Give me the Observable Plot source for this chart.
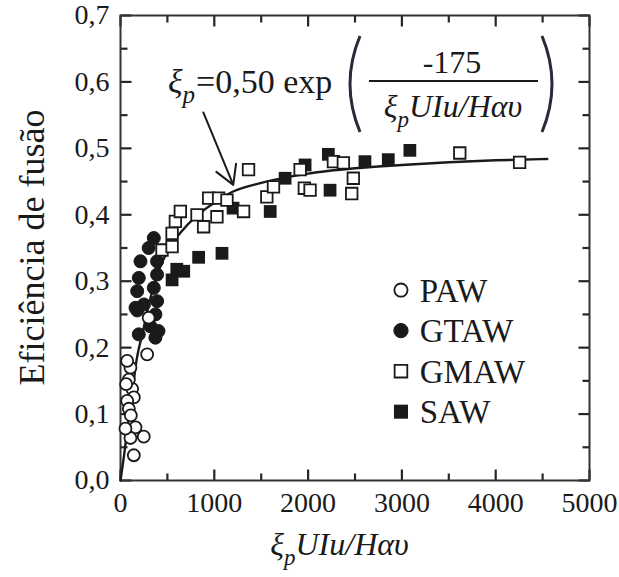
<!DOCTYPE html>
<html><head><meta charset="utf-8">
<script src="https://cdn.jsdelivr.net/npm/d3@7"></script>
<script src="https://cdn.jsdelivr.net/npm/@observablehq/plot@0.6"></script>
<style>body{margin:0;background:#fff} svg{display:block}</style>
</head><body><div id="chart"></div>
<script>
// ---- data ----
const pawX = [284, 106, 71, 124, 142, 71, 89, 160, 248, 106, 53, 142, 89, 300, 110, 60];
const pawY = [0.19, 0.17, 0.18, 0.138, 0.125, 0.12, 0.108, 0.08, 0.066, 0.064, 0.078, 0.038, 0.152, 0.245, 0.098, 0.145];
const gtawX = [355, 300, 213, 390, 195, 390, 178, 355, 390, 160, 250, 372, 320, 195, 405, 372, 178];
const gtawY = [0.365, 0.35, 0.33, 0.33, 0.305, 0.31, 0.285, 0.29, 0.27, 0.26, 0.265, 0.25, 0.232, 0.22, 0.225, 0.215, 0.256];
const gmawX = [443, 550, 550, 585, 638, 816, 886, 940, 1028, 1046, 1135, 1312, 1365, 1560, 1631, 1915, 1960, 2021, 2270, 2376, 2482, 2465, 3617, 4255];
const gmawY = [0.347, 0.352, 0.372, 0.39, 0.405, 0.40, 0.382, 0.425, 0.397, 0.425, 0.422, 0.405, 0.468, 0.427, 0.442, 0.468, 0.44, 0.437, 0.48, 0.478, 0.455, 0.432, 0.493, 0.479];
const sawX = [550, 600, 674, 833, 1082, 1200, 1596, 1755, 1968, 2216, 2234, 2606, 2855, 3085];
const sawY = [0.302, 0.318, 0.315, 0.336, 0.342, 0.41, 0.405, 0.455, 0.475, 0.491, 0.437, 0.48, 0.483, 0.497];
const curveX = [0, 40, 80, 120, 170, 240, 320, 420, 520, 650, 800, 1000, 1200, 1500, 2000, 2500, 3000, 3500, 4000, 4550];
const curveY = [0, 0.04, 0.085, 0.125, 0.18, 0.225, 0.275, 0.32, 0.35, 0.375, 0.397, 0.418, 0.435, 0.448, 0.462, 0.470, 0.475, 0.479, 0.482, 0.484];
const xMajor = [0, 1000, 2000, 3000, 4000, 5000];
const xMinor = [500, 1500, 2500, 3500, 4500];
const yMajor = [0, 0.1, 0.2, 0.3, 0.4, 0.5, 0.6, 0.7];
const yMinor = [0.05, 0.15, 0.25, 0.35, 0.45, 0.55, 0.65];
const legendLabels = ["PAW", "GTAW", "GMAW", "SAW"];
const arrowFrom = [883, 0.554];
const arrowTo = [1202, 0.445];

const W = 619, H = 577, ML = 120, MR = 30, MT = 15, MB = 97;
const FW = W - ML - MR, FH = H - MT - MB;
const X0 = 0, X1 = 5000, Y0 = 0, Y1 = 0.7;
const pts = (xs, ys) => xs.map((x, i) => ({x, y: ys[i]}));
const INK = "#1a1a1a";
const styles = [
  {symbol: "circle", fill: "white", stroke: INK, strokeWidth: 1.8, r: 6},
  {symbol: "circle", fill: INK, stroke: INK, strokeWidth: 1, r: 6.5},
  {symbol: "square", fill: "white", stroke: INK, strokeWidth: 1.8, r: 6.5},
  {symbol: "square", fill: INK, stroke: "none", r: 7.2}
];

// inward ticks on all four sides, built from the tick arrays
const tk = {stroke: "#262626", strokeWidth: 2.2};
const tickRows = [];
for (const [vals, len] of [[xMajor, 11], [xMinor, 7]]) {
  for (const v of vals) {
    tickRows.push({k: "x", v, a: Y0, b: Y0 + len * (Y1 - Y0) / FH});
    tickRows.push({k: "x", v, a: Y1, b: Y1 - len * (Y1 - Y0) / FH});
  }
}
for (const [vals, len] of [[yMajor, 11], [yMinor, 7]]) {
  for (const v of vals) {
    tickRows.push({k: "y", v, a: X0, b: X0 + len * (X1 - X0) / FW});
    tickRows.push({k: "y", v, a: X1, b: X1 - len * (X1 - X0) / FW});
  }
}
const xTickRows = tickRows.filter(d => d.k === "x");
const yTickRows = tickRows.filter(d => d.k === "y");

const legendMarks = legendLabels.flatMap((lab, i) => [
  Plot.dot([lab], {x: () => 2990, y: () => 0.2866 - i * 0.061, ...styles[i], r: styles[i].r * 1.1}),
  Plot.text([lab], {x: () => 3190, y: () => 0.2866 - i * 0.061, text: d => d, textAnchor: "start", fontSize: 33, fill: INK, dy: 1})
]);

const plot = Plot.plot({
  width: W, height: H,
  marginLeft: ML, marginRight: MR, marginTop: MT, marginBottom: MB,
  x: {domain: [X0, X1]},
  y: {domain: [Y0, Y1]},
  style: {fontFamily: "'Liberation Serif','Times New Roman',serif", fontSize: "28px", color: INK, background: "#fff", overflow: "visible"},
  marks: [
    Plot.axisX({anchor: "bottom", ticks: xMajor, tickSize: 0, tickPadding: 12, tickFormat: d => String(d), label: null, fontSize: 28}),
    Plot.axisY({anchor: "left", ticks: yMajor, tickSize: 0, tickPadding: 11, tickFormat: d => d.toFixed(1).replace(".", ","), label: null, fontSize: 28}),
    Plot.link(xTickRows, {x1: "v", x2: "v", y1: "a", y2: "b", ...tk}),
    Plot.link(yTickRows, {y1: "v", y2: "v", x1: "a", x2: "b", ...tk}),
    Plot.frame({stroke: "#333", strokeWidth: 2}),
    Plot.line(pts(curveX, curveY), {x: "x", y: "y", curve: "monotone-x", stroke: INK, strokeWidth: 2.4}),
    Plot.arrow([{x1: arrowFrom[0], y1: arrowFrom[1], x2: arrowTo[0], y2: arrowTo[1]}], {x1: "x1", y1: "y1", x2: "x2", y2: "y2", stroke: INK, strokeWidth: 2, headLength: 16}),
    Plot.dot(pts(sawX, sawY), {x: "x", y: "y", ...styles[3]}),
    Plot.dot(pts(gtawX, gtawY), {x: "x", y: "y", ...styles[1]}),
    Plot.dot(pts(pawX, pawY), {x: "x", y: "y", ...styles[0]}),
    Plot.dot(pts(gmawX, gmawY), {x: "x", y: "y", ...styles[2]}),
    ...legendMarks
  ]
});
document.getElementById("chart").append(plot);

// ---- titles and equation (real text) ----
const svg = d3.select(plot);
const sx = plot.scale("x").apply, sy = plot.scale("y").apply;
const FONT = "'Liberation Serif','Times New Roman',serif";

function xiLabel(g, x, y, size, anchor) {
  const t = g.append("text").attr("x", x).attr("y", y).attr("text-anchor", anchor)
    .attr("font-family", FONT).attr("font-size", size).attr("font-style", "italic").attr("fill", INK);
  t.append("tspan").text("ξ");
  t.append("tspan").attr("font-size", size * 0.72).attr("dy", size * 0.3).text("p");
  t.append("tspan").attr("dy", -size * 0.3).text("UIu/Hαυ");
  return t;
}

const ann = svg.append("g");
xiLabel(ann, (sx(X0) + sx(X1)) / 2 - 15, 555, 32, "middle");
ann.append("text").attr("transform", `translate(44,${(sy(Y0) + sy(Y1)) / 2}) rotate(-90)`)
  .attr("text-anchor", "middle").attr("font-family", FONT).attr("font-size", 36).attr("fill", INK)
  .text("Eficiência de fusão");

const eq = ann.append("text").attr("x", 168).attr("y", 93).attr("text-anchor", "start")
  .attr("font-family", FONT).attr("font-size", 34).attr("fill", INK);
eq.append("tspan").attr("font-style", "italic").text("ξ");
eq.append("tspan").attr("font-style", "italic").attr("font-size", 25).attr("dy", 10).text("p");
eq.append("tspan").attr("dy", -10).attr("dx", 1).text("=0,50 exp");
ann.append("path").attr("d", "M360,36 Q340,84 360,132").attr("fill", "none").attr("stroke", "#2a2a3a").attr("stroke-width", 3);
ann.append("path").attr("d", "M542,36 Q562,84 542,132").attr("fill", "none").attr("stroke", "#2a2a3a").attr("stroke-width", 3);
ann.append("line").attr("x1", 369).attr("x2", 538).attr("y1", 81).attr("y2", 81).attr("stroke", INK).attr("stroke-width", 2);
ann.append("text").attr("x", 452).attr("y", 73).attr("text-anchor", "middle").attr("font-family", FONT).attr("font-size", 32).attr("fill", INK).text("-175");
xiLabel(ann, 453, 117, 32, "middle");
</script>
</body></html>
